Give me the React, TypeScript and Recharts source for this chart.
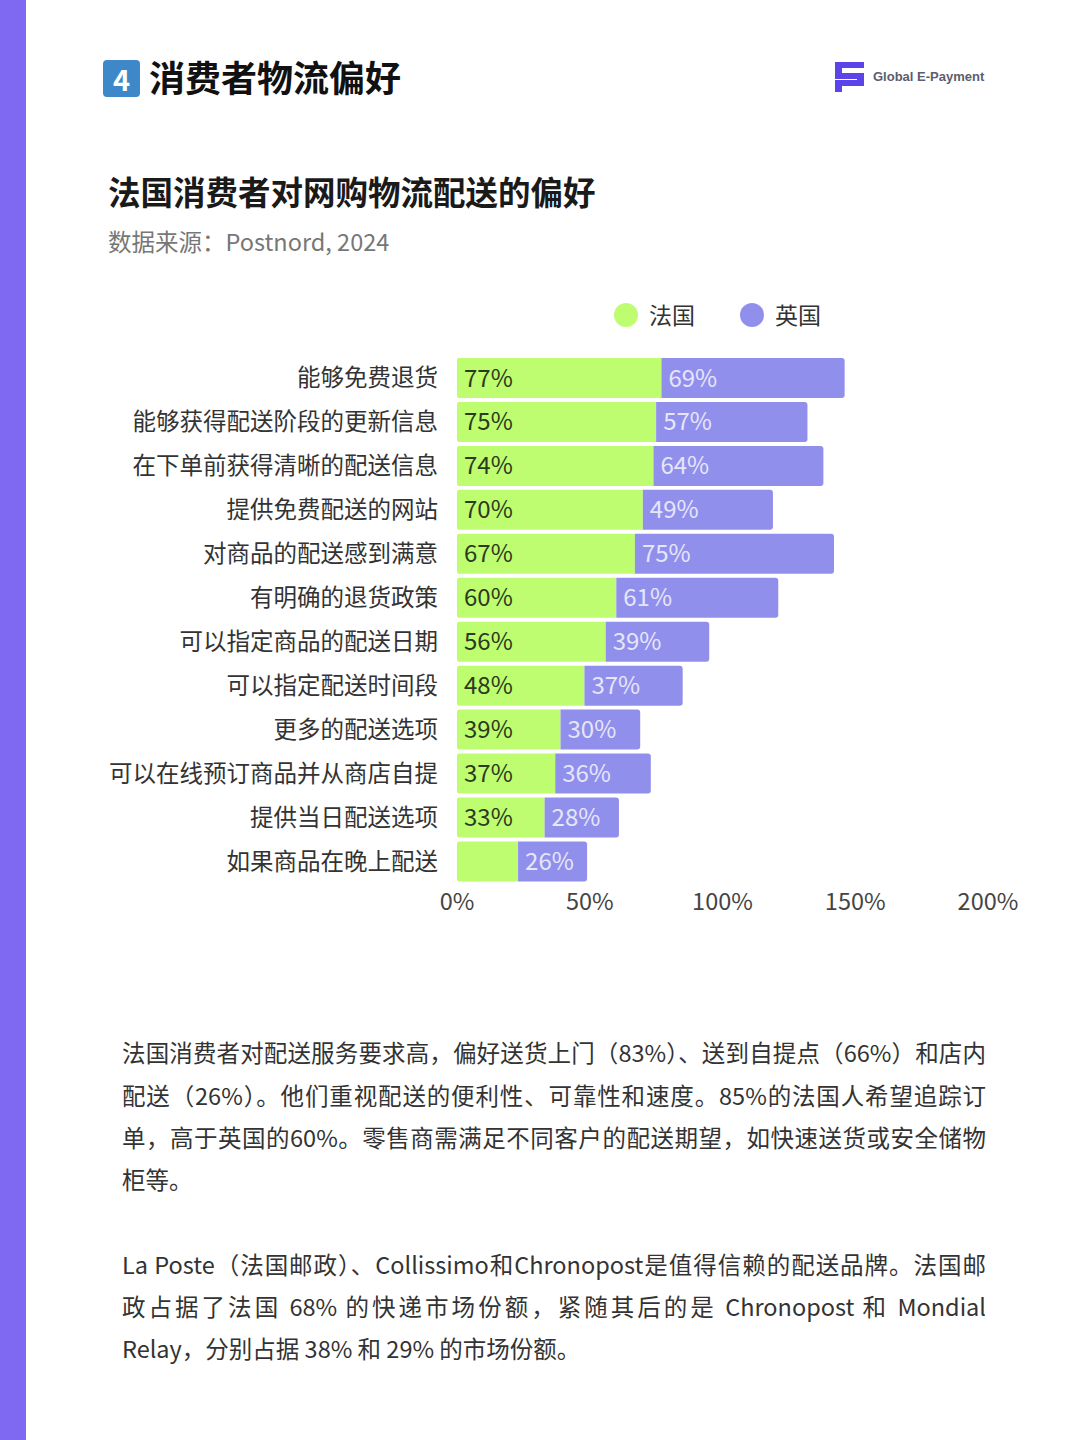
import { BarChart, Bar, XAxis, YAxis, LabelList, Legend } from "recharts";

const categories = [
  "能够免费退货",
  "能够获得配送阶段的更新信息",
  "在下单前获得清晰的配送信息",
  "提供免费配送的网站",
  "对商品的配送感到满意",
  "有明确的退货政策",
  "可以指定商品的配送日期",
  "可以指定配送时间段",
  "更多的配送选项",
  "可以在线预订商品并从商店自提",
  "提供当日配送选项",
  "如果商品在晚上配送",
];
const franceValues = [77, 75, 74, 70, 67, 60, 56, 48, 39, 37, 33, 23];
const ukValues = [69, 57, 64, 49, 75, 61, 39, 37, 30, 36, 28, 26];
const xTicks = [0, 50, 100, 150, 200];
// the reference leaves this one bar unlabelled
const unlabelledFrance = ["如果商品在晚上配送"];

const para1 = [
  "法国消费者对配送服务要求高，偏好送货上门（83%）、送到自提点（66%）和店内",
  "配送（26%）。他们重视配送的便利性、可靠性和速度。85%的法国人希望追踪订",
  "单，高于英国的60%。零售商需满足不同客户的配送期望，如快速送货或安全储物",
];
const para1Last = "柜等。";
const para2 = [
  "La Poste（法国邮政）、Collissimo和Chronopost是值得信赖的配送品牌。法国邮",
  "政占据了法国 68% 的快递市场份额，紧随其后的是 Chronopost 和 Mondial",
];
const para2Last = "Relay，分别占据 38% 和 29% 的市场份额。";

const rows = categories.map((name, i) => ({
  name,
  france: franceValues[i],
  uk: ukValues[i],
  franceLabel: unlabelledFrance.includes(name) ? "" : `${franceValues[i]}%`,
  ukLabel: `${ukValues[i]}%`,
}));

const FONT = '"Noto Sans CJK SC", "Noto Sans", sans-serif';
const GREEN = "#BEFD6F";
const PURPLE = "#918FEC";

const LegendBox = () => (
  <div style={{ position: "absolute", left: 614, top: 19, width: 240, height: 32, fontSize: 23, color: "#333", fontFamily: FONT }}>
    {[
      { label: "法国", color: GREEN, x: 0 },
      { label: "英国", color: PURPLE, x: 126 },
    ].map((d) => (
      <div key={d.label} style={{ position: "absolute", left: d.x, top: 0, height: 32, display: "flex", alignItems: "center" }}>
        <span style={{ width: 24, height: 24, borderRadius: 12, background: d.color, marginRight: 11 }} />
        <span style={{ position: "relative", top: -1 }}>{d.label}</span>
      </div>
    ))}
  </div>
);

const Line = ({ text, top, last }: { text: string; top: number; last?: boolean }) => (
  <div
    style={{
      position: "absolute",
      left: 122,
      top,
      width: 864,
      height: 34,
      lineHeight: "34px",
      fontSize: 23.5,
      color: "#333",
      textAlign: "justify",
      textAlignLast: last ? "left" : "justify",
      whiteSpace: last ? "nowrap" : "normal",
    }}
  >
    {text}
  </div>
);

export default function App() {
  return (
    <div style={{ position: "absolute", left: 0, top: 0, width: 1080, height: 1440, background: "#fff", overflow: "hidden", fontFamily: FONT }}>
      <div style={{ position: "absolute", left: 0, top: 0, width: 26, height: 1440, background: "#7F69F2" }} />

      <div style={{ position: "absolute", left: 103, top: 60, width: 37, height: 37, borderRadius: 4, background: "#3E88C9", color: "#fff", fontSize: 29, fontWeight: 700, lineHeight: "36px", textAlign: "center" }}>4</div>
      <div style={{ position: "absolute", left: 149, top: 52, fontSize: 36, fontWeight: 700, lineHeight: "48px", color: "#111", whiteSpace: "nowrap" }}>消费者物流偏好</div>

      <svg style={{ position: "absolute", left: 834, top: 60 }} width={32} height={34} viewBox="0 0 32 34">
        <path d="M1 2H30V8H8V13H30V26H8V32H1V20H23V19H1Z" fill="#5B45E8" />
      </svg>
      <div style={{ position: "absolute", left: 873, top: 67, fontSize: 13, fontWeight: 700, lineHeight: "20px", color: "#5A5E6E", fontFamily: '"Liberation Sans", sans-serif', whiteSpace: "nowrap" }}>Global E-Payment</div>

      <div style={{ position: "absolute", left: 108, top: 169, fontSize: 32.5, fontWeight: 700, lineHeight: "44px", color: "#1a1a1a", whiteSpace: "nowrap" }}>法国消费者对网购物流配送的偏好</div>
      <div style={{ position: "absolute", left: 108, top: 223, fontSize: 23.5, lineHeight: "36px", color: "#777", whiteSpace: "nowrap" }}>数据来源：Postnord, 2024</div>

      <div style={{ position: "absolute", left: 0, top: 280 }}>
        <BarChart
          width={1080}
          height={650}
          layout="vertical"
          data={rows}
          barCategoryGap={2}
          margin={{ top: 76, right: 92, left: 109, bottom: 4.6 }}
        >
          <XAxis
            type="number"
            domain={[0, 200]}
            ticks={xTicks}
            tickFormatter={(v) => `${v}%`}
            axisLine={false}
            tickLine={false}
            interval={0}
            height={42}
            tickMargin={4}
            tick={{ fontSize: 23.5, fill: "#444", fontFamily: FONT }}
          />
          <YAxis
            type="category"
            dataKey="name"
            width={348}
            axisLine={false}
            tickLine={false}
            interval={0}
            tickMargin={13}
            tick={{ fontSize: 23.5, fill: "#333", fontFamily: FONT }}
          />
          <Legend content={<LegendBox />} wrapperStyle={{ left: 0, top: 0, bottom: "auto", width: 0, height: 0 }} />
          <Bar dataKey="france" stackId="a" fill={GREEN} radius={[2, 0, 0, 2]} isAnimationActive={false}>
            <LabelList dataKey="franceLabel" position="insideLeft" offset={7} fill="#2C3A1E" fontSize={24} fontFamily={FONT} />
          </Bar>
          <Bar dataKey="uk" stackId="a" fill={PURPLE} radius={[0, 3, 3, 0]} isAnimationActive={false}>
            <LabelList dataKey="ukLabel" position="insideLeft" offset={7} fill="#E6E6FB" fontSize={24} fontFamily={FONT} />
          </Bar>
        </BarChart>
      </div>

      {para1.map((t, i) => (
        <Line key={t} text={t} top={1035.4 + i * 42.3} />
      ))}
      <Line text={para1Last} top={1162.3} last />
      {para2.map((t, i) => (
        <Line key={t} text={t} top={1246.6 + i * 42.3} />
      ))}
      <Line text={para2Last} top={1331.2} last />
    </div>
  );
}
